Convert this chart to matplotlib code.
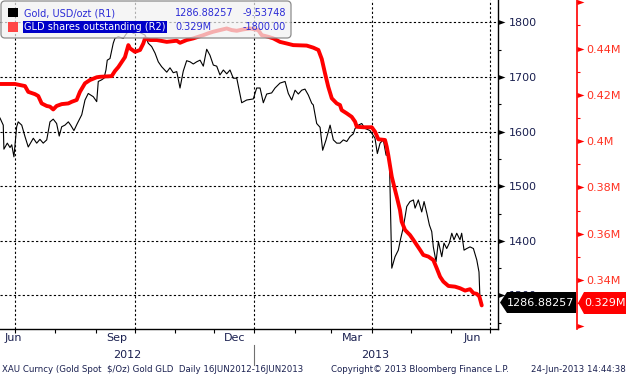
import numpy as np
import matplotlib
matplotlib.use('Agg')
import matplotlib.pyplot as plt
import matplotlib.dates as mdates
from matplotlib.transforms import Affine2D, blended_transform_factory
from matplotlib.patches import Polygon, FancyBboxPatch, Rectangle
from matplotlib.lines import Line2D
from matplotlib.ticker import MultipleLocator, NullFormatter

# ---- data (days counted from 1 Jul 2012) ----
gold_day = [-11.5, -9.0, -8.5, -5.9, -3.8, -2.5, -0.8, 1.3, 2.5, 5.2,
            7.7, 10.2, 14.1, 16.7, 19.2, 21.7, 24.4, 26.9, 29.4, 32.0,
            34.0, 35.9, 38.4, 41.0, 42.8, 45.3, 47.9, 51.3, 53.8, 56.3,
            60.2, 62.8, 64.0, 66.6, 68.4, 69.9, 70.9, 73.0, 75.5, 76.8,
            79.4, 83.2, 85.8, 88.4, 90.9, 94.7, 97.4, 99.9, 102.4, 105.0,
            107.6, 110.1, 112.7, 116.6, 119.1, 121.6, 124.3, 126.8, 129.3, 131.9,
            134.5, 137.0, 139.6, 142.2, 144.7, 147.3, 149.8, 152.4, 155.0, 157.5,
            160.1, 162.7, 165.2, 167.7, 170.4, 172.9, 174.2, 178.0, 183.1, 185.7,
            188.3, 190.8, 193.4, 197.2, 199.8, 203.6, 207.5, 210.0, 212.6, 215.2,
            217.7, 220.3, 222.8, 225.4, 228.0, 229.2, 231.8, 234.4, 236.4, 239.0,
            242.1, 244.6, 247.2, 249.7, 252.3, 254.9, 257.4, 259.9, 261.3, 263.8,
            266.4, 268.9, 272.8, 276.6, 278.4, 280.5, 283.0, 285.1, 287.6, 289.5,
            292.0, 294.5, 296.4, 297.9, 299.7, 301.0, 303.5, 306.1, 307.4, 309.9,
            312.5, 314.3, 316.4, 318.4, 320.2, 321.4, 323.5, 325.3, 327.9, 329.6,
            331.7, 333.7, 335.6, 337.3, 339.4, 341.9, 343.2, 345.0, 347.1, 349.6,
            352.2, 354.8, 356.5, 357.3, 358.6]
gold_val = [1625, 1612, 1568, 1579, 1571, 1576, 1554, 1609, 1618, 1612,
            1591, 1572, 1588, 1579, 1586, 1579, 1585, 1618, 1623, 1615,
            1592, 1609, 1612, 1618, 1612, 1602, 1615, 1631, 1658, 1670,
            1664, 1655, 1692, 1695, 1698, 1713, 1731, 1734, 1762, 1771,
            1774, 1771, 1780, 1786, 1780, 1783, 1780, 1777, 1762, 1756,
            1744, 1728, 1719, 1709, 1717, 1708, 1710, 1680, 1711, 1730,
            1728, 1724, 1728, 1731, 1720, 1751, 1740, 1722, 1720, 1704,
            1713, 1706, 1713, 1698, 1698, 1669, 1653, 1658, 1660, 1680,
            1680, 1653, 1669, 1671, 1680, 1689, 1692, 1670, 1658, 1676,
            1669, 1676, 1678, 1667, 1652, 1649, 1615, 1608, 1566, 1585,
            1612, 1585, 1579, 1579, 1585, 1582, 1591, 1596, 1606, 1612,
            1615, 1606, 1602, 1588, 1560, 1579, 1585, 1557, 1557, 1350,
            1371, 1383, 1405, 1420, 1444, 1463, 1472, 1475, 1460, 1475,
            1453, 1472, 1451, 1429, 1417, 1389, 1362, 1399, 1371, 1396,
            1386, 1396, 1414, 1402, 1414, 1402, 1414, 1383, 1386, 1389,
            1386, 1365, 1343, 1290, 1286.88]

gld_day = [-11.5, 0.0, 7.7, 10.2, 15.4, 17.9, 20.5, 24.4, 26.9, 29.4,
           32.0, 35.9, 41.0, 43.6, 47.4, 49.9, 53.8, 57.6, 62.8, 65.3,
           74.3, 76.8, 79.4, 82.0, 84.5, 87.1, 88.4, 92.2, 96.1, 98.6,
           99.9, 103.7, 108.9, 116.6, 124.3, 126.8, 131.9, 137.0, 140.8, 144.7,
           148.5, 152.4, 157.5, 162.7, 166.5, 170.4, 175.4, 180.6, 186.9, 189.6,
           194.6, 198.5, 203.6, 208.8, 213.8, 224.1, 229.2, 233.1, 235.7, 238.2,
           240.7, 243.4, 247.2, 249.7, 251.0, 254.9, 258.7, 261.3, 262.6, 267.6,
           274.1, 276.6, 279.2, 284.3, 285.6, 286.8, 289.5, 292.0, 293.3, 295.8,
           297.1, 299.7, 303.5, 306.1, 308.7, 311.2, 313.7, 317.6, 321.4, 324.0,
           326.6, 329.1, 333.0, 338.1, 342.0, 345.8, 349.6, 352.2, 354.8, 356.8,
           358.6]
gld_val = [0.4247, 0.4247, 0.4238, 0.4213, 0.4203, 0.4195, 0.4163, 0.4152, 0.4149, 0.4137,
           0.4152, 0.4160, 0.4163, 0.4170, 0.4178, 0.4213, 0.4250, 0.4264, 0.4276, 0.4278,
           0.4281, 0.4303, 0.4320, 0.4342, 0.4363, 0.4415, 0.4401, 0.4386, 0.4394, 0.4422,
           0.4444, 0.4437, 0.4437, 0.4429, 0.4434, 0.4425, 0.4437, 0.4444, 0.4451, 0.4458,
           0.4466, 0.4473, 0.4480, 0.4487, 0.4480, 0.4477, 0.4483, 0.4487, 0.4480, 0.4458,
           0.4451, 0.4444, 0.4429, 0.4422, 0.4415, 0.4413, 0.4404, 0.4394, 0.4355, 0.4293,
           0.4235, 0.4185, 0.4163, 0.4156, 0.4134, 0.4120, 0.4105, 0.4084, 0.4062, 0.4060,
           0.4060, 0.4041, 0.4008, 0.4005, 0.3976, 0.3940, 0.3846, 0.3789, 0.3760, 0.3702,
           0.3652, 0.3616, 0.3594, 0.3573, 0.3551, 0.3530, 0.3508, 0.3501, 0.3486, 0.3451,
           0.3414, 0.3393, 0.3374, 0.3371, 0.3364, 0.3354, 0.3360, 0.3343, 0.3340, 0.3328,
           0.3290]

gold_ticks = [1300, 1400, 1500, 1600, 1700, 1800]
gld_tri = [0.32, 0.34, 0.36, 0.38, 0.40, 0.42, 0.44, 0.46]
gld_lab_ticks = [0.34, 0.36, 0.38, 0.40, 0.42, 0.44]
gld_labels = ['0.34M', '0.36M', '0.38M', '0.4M', '0.42M', '0.44M']

month_names = ['Jun', 'Sep', 'Dec', 'Mar', 'Jun']
month_pos = ['2012-06-30', '2012-09-17', '2012-12-17', '2013-03-17', '2013-06-17']
years = ['2012', '2013']
year_pos = ['2012-09-25', '2013-04-04']

legend_rows = [('Gold, USD/ozt (R1)', '1286.88257', '-9.53748'),
               ('GLD shares outstanding (R2)', '0.329M', '-1800.00')]
gold_last = '1286.88257'
gld_last = '0.329M'
footer_left = 'XAU Curncy (Gold Spot  $/Oz) Gold GLD  Daily 16JUN2012-16JUN2013'
footer_mid = 'Copyright\u00a9 2013 Bloomberg Finance L.P.'
footer_right = '24-Jun-2013 14:44:38'

# ---- figure ----
W, H = 628, 379
fig = plt.figure(figsize=(W / 100, H / 100), dpi=100)
pix = Affine2D().scale(1.0 / W, -1.0 / H).translate(0, 1) + fig.transFigure

base = mdates.datestr2num('2012-07-01')
ax = fig.add_axes([0, 1 - 329 / H, 498 / W, 329 / H])
ax2 = ax.twinx()

ax.plot(base + np.array(gold_day), gold_val, color='black', lw=0.8, zorder=3)
ax.set_xlim(base - 11.5, base + 371.1)
ax.set_ylim(1238.6, 1841.2)

for s in ['top', 'left']:
    ax.spines[s].set_visible(False)
ax.spines['right'].set_linewidth(1.0)
ax.spines['bottom'].set_linewidth(1.0)

ax.xaxis.set_major_locator(mdates.MonthLocator(bymonth=[1, 4, 7, 10]))
ax.xaxis.set_minor_locator(mdates.MonthLocator())
ax.xaxis.set_major_formatter(NullFormatter())
ax.tick_params(axis='x', which='both', direction='out', length=3, width=0.8,
               color='black', labelbottom=False)

ax.yaxis.tick_right()
ax.set_yticks(gold_ticks)
ax.set_yticklabels([str(t) for t in gold_ticks])
ax.yaxis.set_minor_locator(MultipleLocator(50))
ax.tick_params(axis='y', which='both', left=False, labelleft=False,
               right=True, labelright=True)
ax.tick_params(axis='y', which='major', length=0, pad=7.5, labelsize=8,
               labelcolor='#1a2050')
ax.tick_params(axis='y', which='minor', length=2.4, width=0.8, color='black')
ax.grid(True, which='major', color='black', lw=0.8, linestyle=(0, (2, 2)))

tri = [(0, -2.5), (7, 0), (0, 2.5)]
ax.plot(np.ones(len(gold_ticks)), gold_ticks, transform=ax.get_yaxis_transform(),
        ls='none', marker=tri, ms=10, color='black', mew=0, clip_on=False, zorder=6)

ax2.plot(base + np.array(gld_day), gld_val, color='#ff0000', lw=2.8,
         solid_joinstyle='round', solid_capstyle='round')
ax2.set_ylim(0.3188, 0.4610)
for s in ['top', 'left', 'bottom']:
    ax2.spines[s].set_visible(False)
rx = 577 / 498
ax2.spines['right'].set_position(('axes', rx))
ax2.spines['right'].set_color('#ff0000')
ax2.spines['right'].set_linewidth(1.2)
ax2.set_yticks(gld_lab_ticks)
ax2.set_yticklabels(gld_labels)
ax2.yaxis.set_minor_locator(MultipleLocator(0.01))
ax2.tick_params(axis='y', which='major', length=0, pad=6.5, labelsize=8,
                labelcolor='#ff3020')
ax2.tick_params(axis='y', which='minor', length=2.4, width=0.8, color='#ff0000')
ax2.plot(np.full(len(gld_tri), rx), gld_tri, transform=ax2.get_yaxis_transform(),
         ls='none', marker=tri, ms=10, color='#ff0000', mew=0, clip_on=False, zorder=6)

# ---- time axis labels ----
tx = blended_transform_factory(ax.transData, pix)
for name, d in zip(month_names, month_pos):
    ax.text(mdates.datestr2num(d), 338, name, transform=tx, ha='center', va='center',
            fontsize=8, color='#1a2050', clip_on=False)
for name, d in zip(years, year_pos):
    ax.text(mdates.datestr2num(d), 355, name, transform=tx, ha='center', va='center',
            fontsize=8, color='#1a2050', clip_on=False)
jan = mdates.datestr2num('2013-01-01')
fig.add_artist(Line2D([jan, jan], [345, 365], transform=tx, color='#707070', lw=0.8))

fig.text(2, 370, footer_left, transform=pix, fontsize=6.2, va='center', ha='left', color='#1a2050')
fig.text(331, 370, footer_mid, transform=pix, fontsize=6.2, va='center', ha='left', color='#1a2050')
fig.text(626, 370, footer_right, transform=pix, fontsize=6.2, va='center', ha='right', color='#1a2050')

# ---- legend box ----
box = FancyBboxPatch((1, 1), 290, 37, boxstyle='round,pad=0,rounding_size=4',
                     transform=pix, fc=(0.95, 0.95, 0.95, 0.72), ec='#8c8c8c', lw=0.9, zorder=10)
fig.add_artist(box)
fig.add_artist(Rectangle((8, 8), 10, 9, transform=pix, fc='black', ec='none', zorder=11))
fig.add_artist(Rectangle((8, 22), 10, 10, transform=pix, fc='#ff4545', ec='none', zorder=11))
legend_y = [13.5, 27]
for (name, last, chg), yy in zip(legend_rows, legend_y):
    if name.startswith('GLD'):
        fig.text(24, yy, name, transform=pix, fontsize=7, va='center', ha='left',
                 color='white', zorder=12,
                 bbox=dict(fc='#0000c8', ec='none', pad=0.8))
    else:
        fig.text(24, yy, name, transform=pix, fontsize=7, va='center', ha='left',
                 color='#2b2bd6', zorder=12)
    fig.text(175, yy, last, transform=pix, fontsize=7, va='center', ha='left',
             color='#2b2bd6', zorder=12)
    fig.text(286, yy, chg, transform=pix, fontsize=7, va='center', ha='right',
             color='#2b2bd6', zorder=12)

# ---- last value tags ----
fig.add_artist(Polygon([(500, 302.5), (507, 292), (576, 292), (576, 313), (507, 313)],
                       closed=True, transform=pix, fc='black', ec='none', zorder=10))
fig.text(541, 302.5, gold_last, transform=pix, fontsize=8, va='center', ha='center',
         color='white', zorder=11)
fig.add_artist(Polygon([(578, 303), (584, 292), (626, 292), (626, 314), (584, 314)],
                       closed=True, transform=pix, fc='#ff0000', ec='none', zorder=10))
fig.text(605, 303, gld_last, transform=pix, fontsize=8, va='center', ha='center',
         color='white', zorder=11)

fig.savefig('out.png', dpi=100, facecolor='white')
